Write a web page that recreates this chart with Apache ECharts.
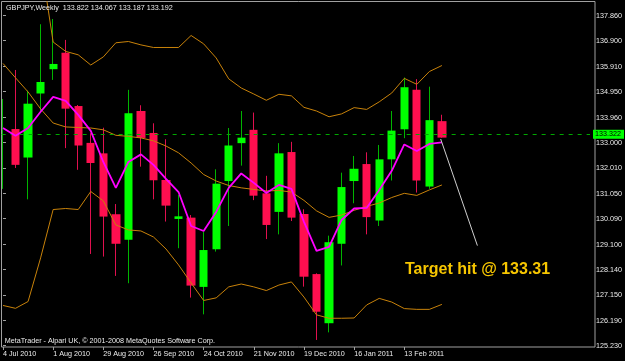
<!DOCTYPE html>
<html><head><meta charset="utf-8">
<script src="https://cdn.jsdelivr.net/npm/echarts@6/dist/echarts.min.js"></script>
<style>html,body{margin:0;padding:0;background:#000;}#c{width:625px;height:361px;}</style>
</head><body><div id="c"></div>
<script>
// ---- data (weekly GBPJPY) ----
const categories = ['4 Jul 2010','11 Jul 2010','18 Jul 2010','25 Jul 2010','1 Aug 2010','8 Aug 2010','15 Aug 2010','22 Aug 2010','29 Aug 2010','5 Sep 2010','12 Sep 2010','19 Sep 2010','26 Sep 2010','3 Oct 2010','10 Oct 2010','17 Oct 2010','24 Oct 2010','31 Oct 2010','7 Nov 2010','14 Nov 2010','21 Nov 2010','28 Nov 2010','5 Dec 2010','12 Dec 2010','19 Dec 2010','26 Dec 2010','2 Jan 2011','9 Jan 2011','16 Jan 2011','23 Jan 2011','30 Jan 2011','6 Feb 2011','13 Feb 2011','20 Feb 2011','27 Feb 2011','6 Mar 2011'];
const openP  = [131.23,133.52,132.43,134.88,135.81,136.44,134.40,132.99,132.59,130.26,129.28,134.21,133.37,131.57,130.08,130.13,127.48,128.92,131.53,132.98,133.49,131.06,130.35,132.64,130.27,127.97,126.09,129.13,131.53,132.18,130.02,132.36,133.51,135.02,131.32,133.822];
const closeP = [134.67,132.15,134.49,135.32,136.01,134.30,132.89,132.22,130.17,129.13,134.12,133.18,131.56,130.59,130.18,127.53,128.89,131.43,132.89,133.19,130.97,129.85,132.59,130.13,127.87,126.53,129.19,131.30,132.00,130.15,132.36,133.46,135.12,131.55,133.86,133.192];
const lowP   = [131.23,132.03,130.83,134.18,135.40,132.79,131.96,128.74,128.64,127.90,127.62,132.08,130.83,129.98,128.96,127.07,126.43,128.83,129.81,132.12,130.80,129.31,129.49,130.00,127.49,125.45,125.74,128.30,130.68,129.49,129.81,131.55,133.17,131.09,131.23,133.187];
const highP  = [134.67,135.78,134.99,137.53,137.73,136.93,134.44,133.36,133.57,130.65,135.02,134.43,133.74,133.13,131.00,130.23,129.59,131.98,133.56,134.21,134.15,131.73,132.98,133.03,130.45,128.00,129.44,131.85,132.49,132.63,132.91,134.21,135.49,135.43,135.14,134.067];
const bbUpper  = [145.27,144.28,142.96,139.99,136.85,136.49,136.36,135.97,136.28,136.82,136.87,136.74,136.64,136.64,136.64,137.10,136.78,136.24,135.44,135.09,134.86,134.62,134.85,134.79,134.35,134.21,133.99,134.10,134.34,134.27,134.56,134.90,135.46,135.23,135.72,135.95];
const bbMiddle = [136.03,135.48,134.94,134.29,133.75,133.60,133.58,133.56,133.49,133.28,133.24,133.18,133.07,132.87,132.61,132.22,131.78,131.53,131.36,131.27,131.21,131.15,131.17,131.11,130.79,130.39,130.14,130.23,130.41,130.56,130.69,130.90,131.06,130.98,131.19,131.38];
const bbLower  = [126.77,126.66,126.92,128.59,130.44,130.48,130.44,131.13,130.77,129.85,129.66,129.62,129.39,128.93,128.32,127.63,126.96,127.06,127.48,127.59,127.48,127.34,127.55,127.67,127.09,126.41,126.28,126.28,126.29,126.79,127.04,126.90,126.65,126.62,126.62,126.81];
const maFast   = [133.56,133.26,133.56,134.18,134.75,134.60,134.06,133.45,132.26,131.27,132.26,132.55,132.15,131.61,131.11,129.81,129.62,130.35,131.27,131.82,131.46,131.07,131.38,131.23,129.97,128.86,129.01,130.04,130.48,130.50,131.19,131.92,132.93,132.68,132.95,133.01];
const yTickValues = [137.86,136.90,135.91,134.95,133.96,133.00,132.01,131.05,130.09,129.10,128.14,127.15,126.19,125.23];
const xTickIndex = [0,4,8,12,16,20,24,28,32];
const targetLevel = 133.322;
const lastClose = 133.192;
const arrowX = [34.9, 37.83];
const arrowY = [133.14, 129.06];
const headerText = 'GBPJPY,Weekly  133.822 134.067 133.187 133.192';
const footerText = 'MetaTrader - Alpari UK, \u00a9 2001-2008 MetaQuotes Software Corp.';
const noteText = 'Target hit @ 133.31';
const firstFullBar = 1; // bar 0 sits on the left edge, only a sliver of it is visible

function fontAvailable(name){
  const ctx=document.createElement('canvas').getContext('2d');
  const s='GBPJPY,Weekly 0123456789 MetaQuotes';
  ctx.font='40px monospace'; const w1=ctx.measureText(s).width;
  ctx.font='40px "'+name+'", monospace'; const w2=ctx.measureText(s).width;
  return Math.abs(w1-w2)>0.5;
}
const narrow = fontAvailable('Liberation Sans Narrow');
const sFont = narrow ? 'Liberation Sans Narrow' : 'Liberation Sans';
const sSize = narrow ? 8.8 : 7.2;
const txtCol = '#ececec';
const bandCol = '#c8820a';

const idx = categories.map((_, i) => i);
const wickData = idx.map(i => [i, openP[i], closeP[i], lowP[i], highP[i]]);
const bodyData = idx.filter(i => i >= firstFullBar).map(i => [i, openP[i], closeP[i], Math.min(openP[i], closeP[i]), Math.max(openP[i], closeP[i])]);
const toLine = arr => arr.map((v, i) => [i, v]);

const chart = echarts.init(document.getElementById('c'), null, {renderer: 'canvas'});
chart.setOption({
  backgroundColor: '#000',
  animation: false,
  grid: {left: 1.5, right: 30, top: 1.5, bottom: 14, show: false},
  xAxis: {
    type: 'value', min: -0.1067, max: 46.81,
    axisLine: {show: false},
    splitLine: {show: false},
    axisTick: {show: true, length: 3, lineStyle: {color: '#a0a0a0'}, customValues: xTickIndex},
    axisLabel: {show: true, customValues: xTickIndex, formatter: v => categories[Math.round(v)] || '',
      align: 'left', margin: 4, color: txtCol, fontFamily: sFont, fontSize: sSize}
  },
  yAxis: {
    type: 'value', position: 'right', min: 125.18, max: 138.40, scale: true,
    axisLine: {show: false},
    splitLine: {show: false},
    axisTick: {show: true, length: 3, lineStyle: {color: '#a0a0a0'}, customValues: yTickValues},
    axisLabel: {show: true, customValues: yTickValues, formatter: v => v.toFixed(3),
      margin: 6, color: txtCol, fontFamily: sFont, fontSize: sSize}
  },
  series: [
    {type: 'candlestick', name: 'wick', data: wickData, barWidth: 1, z: 2,
      itemStyle: {color: '#00b400', color0: '#e0104f', borderColor: '#00b400', borderColor0: '#e0104f', borderWidth: 1}},
    {type: 'candlestick', name: 'body', data: bodyData, barWidth: 8.8, z: 3,
      itemStyle: {color: '#00ff00', color0: '#ff0f4f', borderColor: '#00ff00', borderColor0: '#ff0f4f', borderWidth: 0}},
    {type: 'line', data: toLine(bbUpper), symbol: 'none', z: 4, lineStyle: {color: bandCol, width: 1}},
    {type: 'line', data: toLine(bbMiddle), symbol: 'none', z: 4, lineStyle: {color: bandCol, width: 1}},
    {type: 'line', data: toLine(bbLower), symbol: 'none', z: 4, lineStyle: {color: bandCol, width: 1}},
    {type: 'line', data: toLine(maFast), symbol: 'none', z: 5, lineStyle: {color: '#ff00ff', width: 1.8},
      markLine: {
        silent: true, symbol: ['none', 'none'], animation: false,
        data: [
          {yAxis: targetLevel, lineStyle: {color: '#00a800', type: [4, 5], width: 1},
            label: {show: true, position: 'end', distance: 3, formatter: targetLevel.toFixed(3),
              color: '#000', backgroundColor: '#00ff00', padding: [1, 3, 0, 2],
              fontFamily: sFont, fontSize: sSize, lineHeight: 8}},
          {yAxis: lastClose, lineStyle: {opacity: 0},
            label: {show: true, position: 'end', distance: 3, formatter: ' ',
              backgroundColor: '#ffffff', width: 30, height: 2, padding: 0, fontSize: 1, lineHeight: 2}}
        ]
      }},
    {type: 'line', data: arrowX.map((x, i) => [x, arrowY[i]]), symbol: 'none', z: 6,
      lineStyle: {color: '#d0d0d0', width: 1}}
  ],
  graphic: [
    {type: 'rect', silent: true, z: 1, shape: {x: 1.5, y: 1.5, width: 593.5, height: 345.5},
      style: {fill: 'none', stroke: '#a0a0a0', lineWidth: 1}},
    {type: 'text', silent: true, z: 10, style: {x: 6, y: 8.5, text: headerText, fill: txtCol,
      font: sSize + 'px "' + sFont + '"', verticalAlign: 'middle', textVerticalAlign: 'middle'}},
    {type: 'text', silent: true, z: 10, style: {x: 4.7, y: 340.7, text: footerText, fill: txtCol,
      font: sSize + 'px "' + sFont + '"', verticalAlign: 'middle', textVerticalAlign: 'middle'}},
    {type: 'text', silent: true, z: 10, style: {x: 405, y: 270, text: noteText, fill: '#f7c600',
      font: 'bold 16px "Liberation Sans", Arial', verticalAlign: 'middle', textVerticalAlign: 'middle'}}
  ]
});
</script></body></html>
